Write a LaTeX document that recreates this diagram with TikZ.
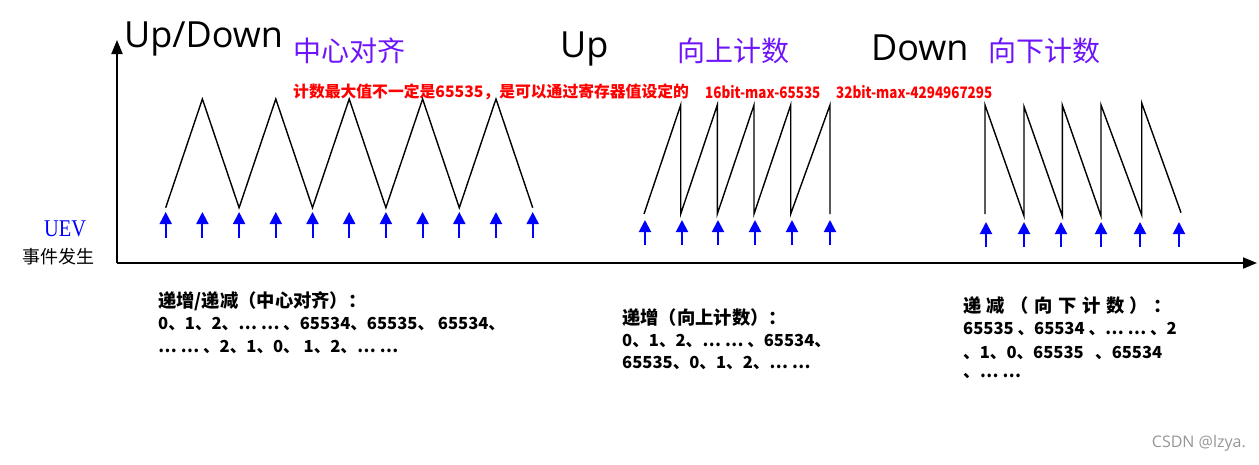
\documentclass[tikz,border=0pt]{standalone}
\usepackage{fontspec}
\setmainfont{Open Sans}
\newfontfamily\cjk{Noto Sans CJK SC}
\newfontfamily\uevfont{Liberation Serif}
\usetikzlibrary{arrows.meta}
\definecolor{purp}{RGB}{110,20,250}
\definecolor{redt}{RGB}{255,0,0}
\definecolor{uevblue}{RGB}{0,0,255}
\definecolor{wm}{RGB}{150,150,150}
\begin{document}
\begin{tikzpicture}[x=1pt,y=-1pt,
  wave/.style={line width=1.4pt, line join=miter},
  uevarrow/.style={draw=uevblue, line width=2pt, -{Triangle[width=12pt,length=12pt]}},
  axisline/.style={line width=2pt, -{Triangle[width=11pt,length=14pt]}},
  bigtxt/.style={inner sep=0, anchor=base west, font=\fontsize{36}{40}\selectfont},
  purptxt/.style={inner sep=0, anchor=west, text=purp, font=\cjk\fontsize{28}{30}\selectfont},
  redtxt/.style={inner sep=0, anchor=west, text=redt, font=\cjk\bfseries\fontsize{15.8}{17}\selectfont},
  redlat/.style={redtxt, xscale=0.85},
  headtxt/.style={inner sep=0, anchor=west, font=\cjk\bfseries\fontsize{18.3}{20}\selectfont},
  bodytxt/.style={inner sep=0, anchor=west, font=\cjk\bfseries\fontsize{16.6}{18}\selectfont}]
\useasboundingbox (0,0) rectangle (1259,464);

% axes
\coordinate (O) at (117,263);
\coordinate (Ytop) at (117,40);
\coordinate (Xend) at (1257,263);
\draw[axisline] (O) -- (Ytop);
\draw[axisline] (O) -- (Xend);

% titles
\node[bigtxt] (tud) at (124,47) {Up/Down};
\node[purptxt] (tcenter) at (293,51) {中心对齐};
\node[bigtxt] (tup) at (560,57) {Up};
\node[purptxt] (tupcn) at (677,51) {向上计数};
\node[bigtxt] (tdown) at (871,60) {Down};
\node[purptxt] (tdowncn) at (988,51) {向下计数};

% red note
\node[redtxt] (note) at (293,92) {计数最大值不一定是65535，是可以通过寄存器值设定的};
\node[redlat] (n16) at (705,92) {16bit-max-65535};
\node[redlat] (n32) at (836,92) {32bit-max-4294967295};

% UEV label
\node[inner sep=0, anchor=west, text=uevblue, font=\uevfont\fontsize{24}{26}\selectfont, xscale=0.85] (uev) at (44,229) {UEV};
\node[inner sep=0, anchor=west, font=\cjk\fontsize{18}{20}\selectfont] (evt) at (22,257) {事件发生};

% center-aligned triangle wave
\draw[wave] (165.7,207.7) -- (202.4,99) -- (239.1,207.7) -- (275.8,99) -- (312.5,207.7)
  -- (349.2,99) -- (385.9,207.7) -- (422.6,99) -- (459.3,207.7) -- (496.0,99) -- (532.7,207.7);
\foreach \k in {0,...,10} {
  \draw[uevarrow] ({165.7+36.7*\k},238) -- ({165.7+36.7*\k},212);
}

% up counting sawtooth
\draw[wave] (644,214) -- (680.7,105) -- (680.7,214) -- (717.3,105) -- (717.3,214)
  -- (754,105) -- (754,214) -- (790.7,105) -- (790.7,214) -- (830,105) -- (830,214);
\foreach \x in {645,682,718,755,792,830} {
  \draw[uevarrow] (\x,245) -- (\x,220);
}

% down counting sawtooth
\draw[wave] (985,214) -- (985,105) -- (1024,216) -- (1024,106.7) -- (1062.3,216)
  -- (1062.3,105) -- (1101,216) -- (1101,105) -- (1141.7,215) -- (1141.7,103) -- (1181,212.7);
\foreach \x in {986,1024,1061,1101,1140,1179} {
  \draw[uevarrow] (\x,247) -- (\x,222);
}

% descriptions
\node[headtxt] (l1) at (158,301) {递增/递减（中心对齐）：};
\node[bodytxt] (l2) at (158,324) {0、1、2、… … 、65534、65535、 65534、};
\node[bodytxt] (l3) at (158,347) {… … 、2、1、0、 1、2、… …};

\node[headtxt] (m1) at (622,318) {递增（向上计数）：};
\node[bodytxt] (m2) at (622,341) {0、1、2、… … 、65534、};
\node[bodytxt] (m3) at (622,363) {65535、0、1、2、… …};

\node[headtxt] (r1) at (963,306) {递\hspace{5.5pt}减\hspace{5.5pt}（\hspace{5.5pt}向\hspace{5.5pt}下\hspace{5.5pt}计\hspace{5.5pt}数\hspace{5.5pt}）\hspace{5.5pt}：};
\node[bodytxt] (r2) at (963,329) {65535 、65534 、… … 、2};
\node[bodytxt] (r3) at (963,353) {、1、0、65535 \ \ 、65534};
\node[bodytxt] (r4) at (963,376) {、… …};

\node[inner sep=0, anchor=east, text=wm, font=\fontsize{16}{18}\selectfont] (wmark) at (1246,443) {CSDN @lzya.};
\end{tikzpicture}
\end{document}
